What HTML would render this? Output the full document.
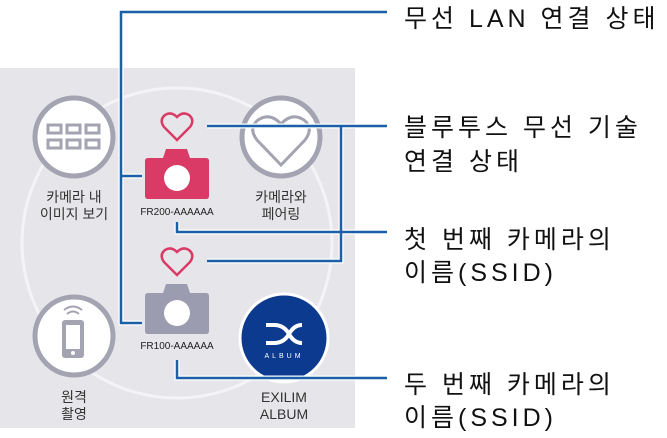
<!DOCTYPE html>
<html><head><meta charset="utf-8"><style>
html,body{margin:0;padding:0;background:#fff;width:667px;height:438px;overflow:hidden}
svg{display:block}
.lbl{font-family:"Liberation Sans","Noto Sans CJK KR",sans-serif;font-size:25px;fill:#111;letter-spacing:4px}
.sm{font-family:"Liberation Sans","Noto Sans CJK KR",sans-serif;font-size:14px;fill:#333;text-anchor:middle}
.id{font-family:"Liberation Sans",sans-serif;font-size:10px;fill:#222;text-anchor:middle}
</style></head><body>
<svg width="667" height="438" viewBox="0 0 667 438" xmlns="http://www.w3.org/2000/svg">
<rect x="0" y="68" width="355" height="360" fill="#e6e6ea"/>
<circle cx="177" cy="243" r="155" fill="none" stroke="#f4f4f7" stroke-width="3"/>
<circle cx="74" cy="137" r="39" fill="#fff" stroke="#a3a3b2" stroke-width="5"/>
<g fill="none" stroke="#a3a3b2" stroke-width="3">
<rect x="48" y="125" width="13" height="8"/><rect x="67" y="125" width="13" height="8"/><rect x="86" y="125" width="13" height="8"/>
<rect x="48" y="140" width="13" height="8"/><rect x="67" y="140" width="13" height="8"/><rect x="86" y="140" width="13" height="8"/>
</g>
<circle cx="281" cy="137" r="39" fill="#fff" stroke="#a3a3b2" stroke-width="5"/>
<path d="M281 165 L257 140 Q248 128 258 120 Q270 112 281 124 Q292 112 304 120 Q314 128 305 140 Z" fill="none" stroke="#a3a3b2" stroke-width="3"/>
<circle cx="74" cy="336" r="39" fill="#fff" stroke="#a3a3b2" stroke-width="5"/>
<rect x="62" y="320" width="22" height="38" rx="3" fill="#a3a3b2"/>
<rect x="66" y="325" width="14" height="24" fill="#fff"/>
<circle cx="73" cy="353" r="2" fill="#fff"/>
<path d="M64 310 Q73 303 82 310 M67 314 Q73 309 79 314" fill="none" stroke="#a3a3b2" stroke-width="2"/>
<circle cx="284" cy="338" r="44" fill="#0b3a8f" stroke="#fff" stroke-width="3"/>
<path d="M266 325 L274 325 Q284 325 289 334 Q294 343 302 343 M266 343 L274 343 Q284 343 289 334 Q294 325 302 325" fill="none" stroke="#fff" stroke-width="4"/>
<text x="284" y="358" font-family="Liberation Sans,sans-serif" font-size="7" fill="#fff" text-anchor="middle" letter-spacing="3">ALBUM</text>
<path d="M163 158 L166 149 L187 149 L190 158 L206 158 Q209 158 209 161 L209 196 Q209 199 206 199 L148 199 Q145 199 145 196 L145 161 Q145 158 148 158 Z" fill="#d93a66"/>
<circle cx="177" cy="178" r="13" fill="#fff"/>
<path d="M163 293 L166 284 L187 284 L190 293 L206 293 Q209 293 209 296 L209 331 Q209 334 206 334 L148 334 Q145 334 145 331 L145 296 Q145 293 148 293 Z" fill="#9c9cb0"/>
<circle cx="177" cy="313" r="13" fill="#fff"/>
<path d="M177 140 L164 127 Q159 120 165 115 Q171 111 177 117 Q183 111 189 115 Q195 120 190 127 Z" fill="none" stroke="#d93a66" stroke-width="2.5"/>
<path d="M177 275 L164 262 Q159 255 165 250 Q171 246 177 252 Q183 246 189 250 Q195 255 190 262 Z" fill="none" stroke="#d93a66" stroke-width="2.5"/>
<text class="id" x="177" y="215">FR200-AAAAAA</text>
<text class="id" x="177" y="349">FR100-AAAAAA</text>
<text class="sm" x="74" y="202">카메라 내</text><text class="sm" x="74" y="219">이미지 보기</text>
<text class="sm" x="281" y="202">카메라와</text><text class="sm" x="281" y="219">페어링</text>
<text class="sm" x="74" y="402">원격</text><text class="sm" x="74" y="419">촬영</text>
<text class="sm" x="284" y="402">EXILIM</text><text class="sm" x="284" y="419">ALBUM</text>
<g fill="none" stroke="#fff" stroke-width="5" stroke-linejoin="miter">
<path d="M387 12 L121 12 L121 323 L142 323 M121 176 L142 176"/>
<path d="M387 126 L207 126 M341 126 L341 261 L207 261"/>
<path d="M177 222 L177 232 L387 232"/>
<path d="M177 360 L177 378 L387 378"/>
</g>
<g fill="none" stroke="#1a5fa8" stroke-width="2.5">
<path d="M387 12 L121 12 L121 323 L142 323 M121 176 L142 176"/>
<path d="M387 126 L207 126 M341 126 L341 261 L207 261"/>
<path d="M177 222 L177 232 L387 232"/>
<path d="M177 360 L177 378 L387 378"/>
</g>
<text class="lbl" x="404" y="27">무선 LAN 연결 상태</text>
<text class="lbl" x="404" y="136">블루투스 무선 기술</text>
<text class="lbl" x="404" y="170">연결 상태</text>
<text class="lbl" x="404" y="248">첫 번째 카메라의</text>
<text class="lbl" x="404" y="281">이름(SSID)</text>
<text class="lbl" x="404" y="393">두 번째 카메라의</text>
<text class="lbl" x="404" y="426">이름(SSID)</text>
</svg>
</body></html>
